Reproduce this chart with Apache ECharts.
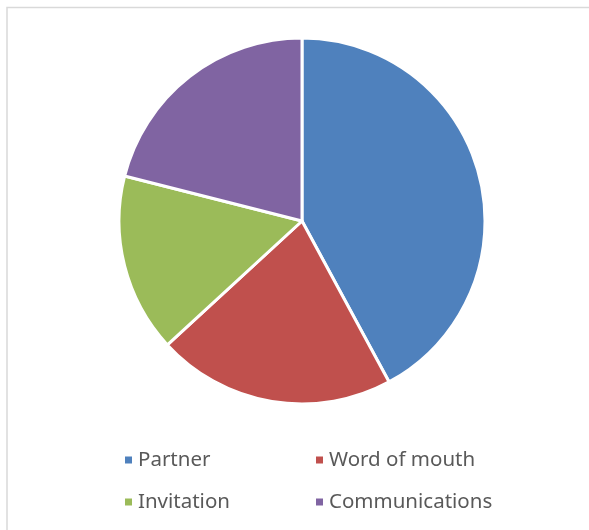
<!DOCTYPE html>
<html><head><meta charset="utf-8">
<script src="https://cdn.jsdelivr.net/npm/echarts@6/dist/echarts.min.js"></script>
<style>html,body{margin:0;padding:0;background:#fff}#c{width:589px;height:530px}</style>
</head><body><div id="c"></div>
<script>
const categories = ["Partner", "Word of mouth", "Invitation", "Communications"];
const values = [8, 4, 3, 4];
const colors = ["#4F81BD", "#C0504D", "#9BBB59", "#8064A2"];

const chart = echarts.init(document.getElementById('c'), null, {renderer: 'canvas'});
const data = categories.map((n, i) => ({name: n, value: values[i], itemStyle: {color: colors[i]}}));
const legendText = {fontFamily: 'Noto Sans', fontSize: 20.5, lineHeight: 22, color: '#595959'};
chart.setOption({
  animation: false,
  backgroundColor: '#fff',
  graphic: [{type: 'rect', shape: {x: 7, y: 7.5, width: 700, height: 700},
    style: {fill: 'none', stroke: '#d9d9d9', lineWidth: 1.5}, silent: true}],
  legend: [
    {data: [categories[0], categories[2]], orient: 'vertical', left: 118, top: 444,
     itemWidth: 9, itemHeight: 9, itemGap: 20, icon: 'rect', textStyle: legendText},
    {data: [categories[1], categories[3]], orient: 'vertical', left: 309, top: 444,
     itemWidth: 9, itemHeight: 9, itemGap: 20, icon: 'rect', textStyle: legendText}
  ],
  series: [{
    type: 'pie', center: [302, 221], radius: [0, 183], startAngle: 90, clockwise: true,
    label: {show: false}, labelLine: {show: false},
    itemStyle: {borderColor: '#fff', borderWidth: 3},
    emphasis: {disabled: true},
    data: data
  }]
});
</script></body></html>
